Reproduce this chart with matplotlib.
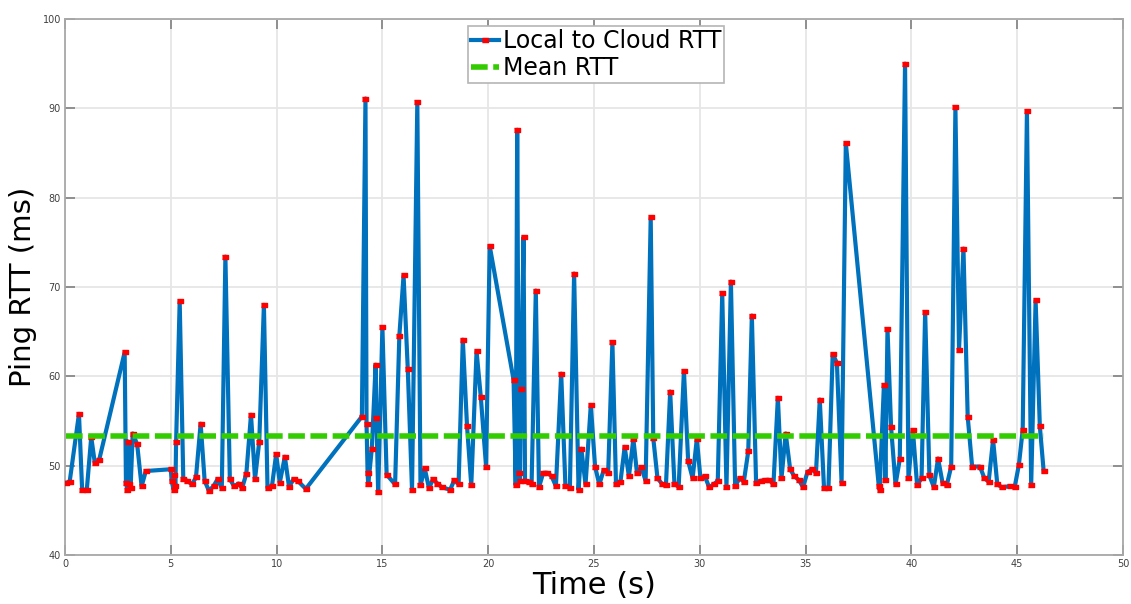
import matplotlib.pyplot as plt
import numpy as np

# ping samples (time in s, RTT in ms)
time_s = [
    0.06, 0.22, 0.66, 0.81, 1.03, 1.24, 1.41, 1.61, 2.82, 2.88, 2.95, 2.98,
    3.04, 3.10, 3.20, 3.41, 3.62, 3.82, 5.00, 5.04, 5.14, 5.15, 5.22, 5.25,
    5.42, 5.59, 5.78, 6.00, 6.19, 6.41, 6.60, 6.80, 7.02, 7.21, 7.41, 7.58,
    7.79, 7.99, 8.20, 8.37, 8.57, 8.79, 8.98, 9.18, 9.40, 9.57, 9.78, 9.98,
    10.15, 10.39, 10.59, 10.80, 11.00, 11.38,
    14.03, 14.20, 14.25, 14.30, 14.33, 14.50, 14.68, 14.72, 14.80, 15.00,
    15.20, 15.60, 15.80, 16.00, 16.20, 16.40, 16.65, 16.80, 17.00, 17.20,
    17.40, 17.60, 17.80, 18.20, 18.40, 18.60, 18.80, 19.00, 19.20, 19.45,
    19.65, 19.90, 20.07, 21.20, 21.30, 21.37, 21.45, 21.50, 21.55, 21.67,
    21.74, 21.95, 22.05, 22.25, 22.40, 22.60, 22.80, 23.00, 23.20, 23.45,
    23.65, 23.86, 24.06, 24.27, 24.40, 24.60, 24.85, 25.05, 25.25, 25.46,
    25.67, 25.87, 26.04, 26.25, 26.45, 26.65, 26.86, 27.03, 27.24, 27.44,
    27.68, 27.80, 28.00, 28.20, 28.40, 28.60, 28.80, 29.00, 29.25, 29.45,
    29.66, 29.86, 30.03, 30.24, 30.44, 30.65, 30.85, 31.06, 31.26, 31.47,
    31.67, 31.88, 32.08, 32.29, 32.46, 32.66, 32.87, 33.07, 33.28, 33.48,
    33.69, 33.86, 34.06, 34.27, 34.47, 34.68, 34.88, 35.09, 35.29, 35.49,
    35.67, 35.87, 36.08, 36.28, 36.48, 36.70, 36.90,
    38.46, 38.50, 38.70, 38.77, 38.87, 39.04, 39.25, 39.45, 39.70, 39.86,
    40.07, 40.27, 40.48, 40.65, 40.85, 41.06, 41.26, 41.47, 41.67, 41.88,
    42.08, 42.25, 42.46, 42.66, 42.87, 43.24, 43.45, 43.65, 43.86, 44.06,
    44.27, 44.68, 44.88, 45.08, 45.26, 45.46, 45.66, 45.87, 46.07, 46.25,
]
rtt_ms = [
    48.1, 48.2, 55.8, 47.3, 47.3, 53.2, 50.3, 50.6, 62.7, 48.1, 47.3, 52.7,
    48.0, 47.5, 53.6, 52.4, 47.7, 49.4, 49.6, 48.3, 47.3, 48.9, 47.7, 52.6,
    68.4, 48.5, 48.3, 47.9, 48.7, 54.7, 48.3, 47.2, 47.7, 48.5, 47.5, 73.4,
    48.5, 47.7, 48.0, 47.5, 49.1, 55.7, 48.5, 52.7, 68.0, 47.5, 47.7, 51.3,
    48.1, 51.0, 47.6, 48.5, 48.3, 47.4,
    55.5, 91.1, 54.7, 49.2, 47.9, 51.9, 61.3, 55.3, 47.0, 65.5,
    49.0, 47.9, 64.5, 71.3, 60.8, 47.3, 90.7, 47.8, 49.7, 47.5,
    48.5, 48.0, 47.6, 47.3, 48.4, 47.9, 64.1, 54.4, 47.8, 62.8,
    57.7, 49.9, 74.6, 59.6, 47.8, 87.6, 49.2, 48.3, 58.6, 75.6,
    48.3, 48.2, 47.9, 69.6, 47.6, 49.2, 49.2, 48.8, 47.7, 60.3,
    47.7, 47.5, 71.5, 47.3, 51.9, 47.9, 56.8, 49.9, 47.9, 49.5,
    49.2, 63.8, 47.9, 48.2, 52.1, 48.8, 53.0, 49.2, 49.8, 48.3,
    77.8, 53.1, 48.6, 48.0, 47.8, 58.3, 48.0, 47.6, 60.6, 50.5,
    48.6, 53.0, 48.6, 48.8, 47.6, 47.9, 48.3, 69.3, 47.6, 70.6,
    47.7, 48.6, 48.2, 51.6, 66.8, 48.1, 48.3, 48.4, 48.4, 47.9,
    57.6, 48.6, 53.6, 49.6, 48.8, 48.4, 47.6, 49.3, 49.6, 49.2,
    57.4, 47.5, 47.5, 62.5, 61.5, 48.1, 86.1,
    47.7, 47.3, 59.0, 48.4, 65.3, 54.3, 47.9, 50.7, 95.0, 48.6,
    54.0, 47.8, 48.6, 67.2, 48.9, 47.6, 50.8, 48.1, 47.8, 49.9,
    90.1, 63.0, 74.3, 55.5, 49.9, 49.9, 48.6, 48.2, 52.9, 47.9,
    47.6, 47.7, 47.6, 50.1, 54.0, 89.7, 47.8, 68.5, 54.4, 49.4,
]
mean_rtt = 53.3

fig = plt.figure(figsize=(11.31, 6.04), dpi=100)
ax = fig.add_axes([65 / 1131, 1 - 555 / 604, (1123 - 65) / 1131, (555 - 19) / 604])

# small flat rectangles like the MATLAB markers
rect = [(-1, -0.5), (1, -0.5), (1, 0.5), (-1, 0.5)]

ax.plot(time_s, rtt_ms, color="#0072BD", lw=3.0, marker=rect, ms=4.6,
        mfc="red", mec="red", label="Local to Cloud RTT", zorder=3)
ax.plot([time_s[0], time_s[-1]], [mean_rtt, mean_rtt], color="#33CC00",
        lw=4, ls=(0, (3.0, 1.0)), label="Mean RTT", zorder=4)

ax.set_xlim(0, 50)
ax.set_ylim(40, 100)
ax.set_xticks(np.arange(0, 51, 5))
ax.set_yticks(np.arange(40, 101, 10))
ax.grid(True, color="#e6e6e6", lw=1.3)
ax.set_axisbelow(True)
for sp in ax.spines.values():
    sp.set_color("#a8a8a8")
    sp.set_linewidth(1.3)
ax.tick_params(direction="in", top=True, right=True, length=7, width=1.1,
               color="#777777", labelsize=7, labelcolor="#404040", pad=3)

ax.set_xlabel("Time (s)", fontsize=22, labelpad=1)
ax.set_ylabel("Ping RTT (ms)", fontsize=21, labelpad=4)

leg = ax.legend(loc="upper center", bbox_to_anchor=(0.502, 1.0),
                prop={"size": 17}, fancybox=False,
                edgecolor="#b5b5b5", framealpha=1, handlelength=1.2,
                handletextpad=0.15, borderpad=0.12, labelspacing=0.15,
                borderaxespad=0.3)
leg.get_frame().set_linewidth(1.2)

fig.savefig("out.png", dpi=100)
